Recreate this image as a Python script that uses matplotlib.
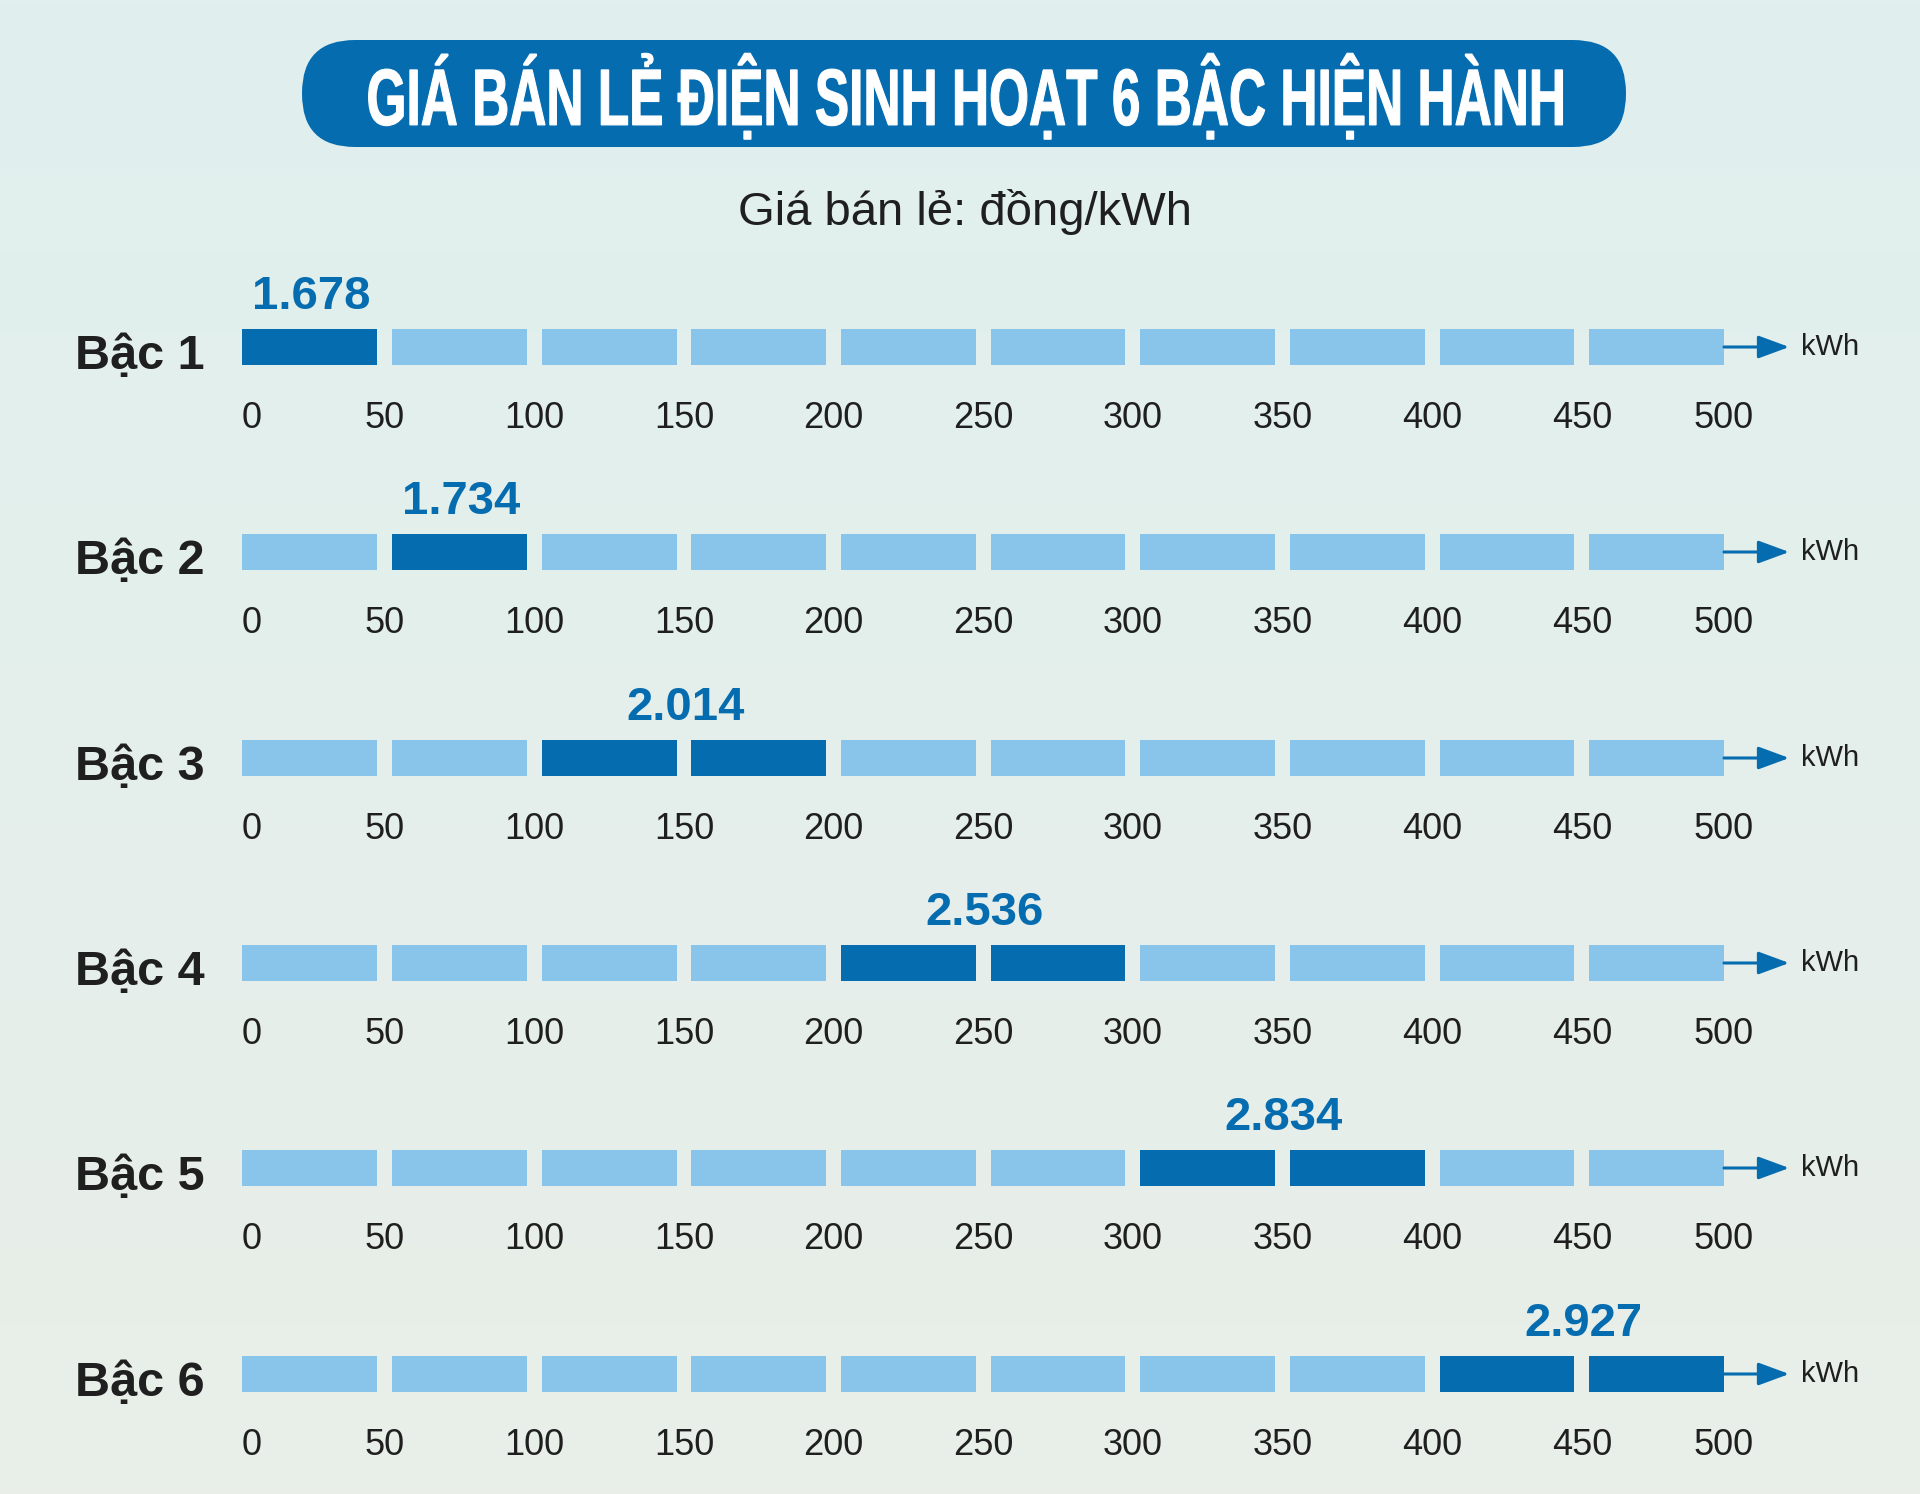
import numpy as np
import matplotlib
matplotlib.use("Agg")
import matplotlib.pyplot as plt
from matplotlib.patches import FancyBboxPatch, PathPatch
from matplotlib.textpath import TextPath
from matplotlib.font_manager import FontProperties
from matplotlib.transforms import Affine2D

# data
tiers = ["Bậc 1", "Bậc 2", "Bậc 3", "Bậc 4", "Bậc 5", "Bậc 6"]
prices = [1678, 1734, 2014, 2536, 2834, 2927]
tier_start = [0, 50, 100, 200, 300, 400]
tier_end = [50, 100, 200, 300, 400, 500]
kwh_ticks = [0, 50, 100, 150, 200, 250, 300, 350, 400, 450, 500]
title = "GIÁ BÁN LẺ ĐIỆN SINH HOẠT 6 BẬC HIỆN HÀNH"
subtitle = "Giá bán lẻ: đồng/kWh"

DARK = "#066cb0"
LIGHT = "#89c4eb"
TEXT = "#1f1f1f"
FONT = ["Liberation Sans", "DejaVu Sans"]

W, H = 1920, 1494
fig = plt.figure(figsize=(W / 100, H / 100), dpi=100)

# background gradient
bg = fig.add_axes([0, 0, 1, 1], zorder=-10)
grad = np.linspace(0, 1, 256)[:, None]
top = np.array([0xe0, 0xf0, 0xee]) / 255
bot = np.array([0xe9, 0xee, 0xe8]) / 255
img = top[None, None, :] * (1 - grad[..., None]) + bot[None, None, :] * grad[..., None]
bg.imshow(img, aspect="auto", extent=[0, 1, 0, 1])
bg.axis("off")

# title banner (pill shape, drawn in a pixel-scaled axes)
bw, bh = 1324, 107
bax = fig.add_axes([302 / W, 1 - 147 / H, bw / W, bh / H], zorder=-5)
bax.set_xlim(0, bw)
bax.set_ylim(0, bh)
bax.axis("off")
bax.add_patch(FancyBboxPatch((0, 0), bw, bh,
                             boxstyle=f"round,pad=0,rounding_size={bh / 2 - 0.5}",
                             facecolor=DARK, edgecolor="none"))

# condensed heavy title: squeeze a bold outline to the banner text box
prop = FontProperties(family="Liberation Sans", weight="bold")
tp = TextPath((0, 0), title, size=100, prop=prop)
cap = TextPath((0, 0), "H", size=100, prop=prop).get_extents().height
ext = tp.get_extents()
t_left, t_right, t_base, t_cap = 368.6, 1562.5, 124.9, 55.0
sx = (t_right - t_left) / W / ext.width
sy = t_cap / H / cap
tr = Affine2D().translate(-ext.x0, 0).scale(sx, sy).translate(t_left / W, 1 - t_base / H)
fig.patches.append(PathPatch(tr.transform_path(tp), transform=fig.transFigure,
                             facecolor="white", edgecolor="white", lw=0.8))

fig.text(965 / W, 1 - 212 / H, subtitle, ha="center",
         va="center", color=TEXT, fontsize=34, family=FONT)

# segment geometry (10 blocks of 50 kWh on a 0..500 axis)
n_seg = 10
gap = 5.0
seg_w = (500 - gap * (n_seg - 1)) / n_seg
step = seg_w + gap


def seg_left(k):
    return k * step


tick_pos = [3.0] + [seg_left(k) - gap / 2 for k in range(1, n_seg)] + [500.0]

row_centers = [347, 552, 758, 963, 1168, 1374]
bar_h = 36
x0_px, x1_px = 242.4, 1724.0

for i, name in enumerate(tiers):
    cy = row_centers[i]
    ax = fig.add_axes([x0_px / W, 1 - (cy + bar_h / 2) / H,
                       (x1_px - x0_px) / W, bar_h / H])
    ax.set_xlim(0, 500)
    ax.set_ylim(0, 1)
    ax.patch.set_alpha(0)
    for s in ax.spines.values():
        s.set_visible(False)

    lefts = [seg_left(k) for k in range(n_seg)]
    colors = [DARK if tier_start[i] <= k * 50 < tier_end[i] else LIGHT
              for k in range(n_seg)]
    ax.barh([0.5] * n_seg, [seg_w] * n_seg, left=lefts, height=1.0,
            color=colors, edgecolor="none")

    ax.set_yticks([])
    ax.set_xticks(tick_pos)
    ax.set_xticklabels([str(v) for v in kwh_ticks], fontsize=26,
                       color=TEXT, family=FONT)
    ax.tick_params(axis="x", length=0, pad=26)

    # arrow + unit
    ax.annotate("", xy=(522, 0.5), xytext=(500, 0.5), annotation_clip=False,
                arrowprops=dict(arrowstyle="-|>,head_length=1.9,head_width=0.7",
                                color=DARK, lw=2.2, shrinkA=0, shrinkB=0))
    ax.text(526, 0.5, "kWh", ha="left", va="center", fontsize=21,
            color=TEXT, family=FONT, clip_on=False)

    # tier label
    ax.annotate(name, xy=(0, -0.1), xycoords="axes fraction",
                xytext=(-27, 0), textcoords="offset points", ha="right",
                va="baseline", fontsize=35, fontweight="bold", color=TEXT,
                family=FONT)

    # price label
    lo = seg_left(tier_start[i] // 50)
    hi = seg_left(tier_end[i] // 50 - 1) + seg_w
    label = f"{prices[i]:,}".replace(",", ".")
    ax.text((lo + hi) / 2 + 0.5, 1.55, label, ha="center", va="baseline",
            fontsize=34, fontweight="bold", color=DARK, family=FONT,
            clip_on=False)

fig.savefig("out.png", dpi=100)
